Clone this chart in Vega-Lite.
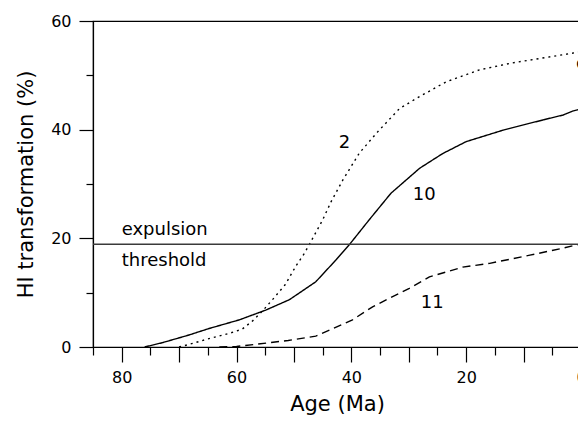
{
  "$schema": "https://vega.github.io/schema/vega-lite/v6.json",
  "width": 488,
  "height": 326,
  "autosize": {"type": "none"},
  "padding": {"left": 93, "top": 21, "right": 0, "bottom": 74},
  "background": "white",
  "config": {
    "view": {"stroke": "black", "strokeWidth": 1.2},
    "font": "DejaVu Sans",
    "axis": {
      "grid": false,
      "domainColor": "black",
      "domainWidth": 1.2,
      "tickColor": "black",
      "tickWidth": 1.2,
      "labelFont": "DejaVu Sans",
      "titleFont": "DejaVu Sans",
      "labelColor": "black",
      "titleColor": "black",
      "titleFontWeight": "normal",
      "labelFontSize": 16,
      "titleFontSize": 21
    }
  },
  "datasets": {
    "curves": [
      {"series": "2", "age": 70, "value": 0},
      {"series": "2", "age": 67.5, "value": 0.7},
      {"series": "2", "age": 65.3, "value": 1.4},
      {"series": "2", "age": 61.3, "value": 2.5},
      {"series": "2", "age": 59, "value": 3.3},
      {"series": "2", "age": 57.2, "value": 4.8},
      {"series": "2", "age": 55.5, "value": 6.6},
      {"series": "2", "age": 53.5, "value": 9},
      {"series": "2", "age": 51.5, "value": 11.5},
      {"series": "2", "age": 49.6, "value": 15},
      {"series": "2", "age": 48.2, "value": 17.2},
      {"series": "2", "age": 47.3, "value": 18.9},
      {"series": "2", "age": 45, "value": 23.4},
      {"series": "2", "age": 43.5, "value": 26.8},
      {"series": "2", "age": 41.5, "value": 30.7},
      {"series": "2", "age": 38.6, "value": 35.7},
      {"series": "2", "age": 35.5, "value": 39.5},
      {"series": "2", "age": 31.6, "value": 43.9},
      {"series": "2", "age": 28.1, "value": 46.1},
      {"series": "2", "age": 23.5, "value": 48.8},
      {"series": "2", "age": 17.7, "value": 51},
      {"series": "2", "age": 11.9, "value": 52.3},
      {"series": "2", "age": 6, "value": 53.3},
      {"series": "2", "age": 0.8, "value": 54.2},
      {"series": "2", "age": 0, "value": 54.3},
      {"series": "10", "age": 76, "value": 0},
      {"series": "10", "age": 72.9, "value": 0.8},
      {"series": "10", "age": 68.3, "value": 2.2},
      {"series": "10", "age": 64.8, "value": 3.4},
      {"series": "10", "age": 59.5, "value": 5.0},
      {"series": "10", "age": 54.9, "value": 6.8},
      {"series": "10", "age": 50.8, "value": 8.7},
      {"series": "10", "age": 46.2, "value": 12.0},
      {"series": "10", "age": 42.7, "value": 16.0},
      {"series": "10", "age": 40.3, "value": 18.9},
      {"series": "10", "age": 36.9, "value": 23.4},
      {"series": "10", "age": 33.1, "value": 28.3},
      {"series": "10", "age": 28.1, "value": 32.9},
      {"series": "10", "age": 24.1, "value": 35.6},
      {"series": "10", "age": 20, "value": 37.8},
      {"series": "10", "age": 13.6, "value": 39.9},
      {"series": "10", "age": 6.6, "value": 41.8},
      {"series": "10", "age": 3.1, "value": 42.7},
      {"series": "10", "age": 1.5, "value": 43.4},
      {"series": "10", "age": 0.8, "value": 43.6},
      {"series": "10", "age": 0, "value": 43.8},
      {"series": "11", "age": 63, "value": 0},
      {"series": "11", "age": 60, "value": 0.1},
      {"series": "11", "age": 56.6, "value": 0.5},
      {"series": "11", "age": 51, "value": 1.2},
      {"series": "11", "age": 46.2, "value": 2.0},
      {"series": "11", "age": 43.8, "value": 3.1},
      {"series": "11", "age": 39.8, "value": 5.0},
      {"series": "11", "age": 36.3, "value": 7.4},
      {"series": "11", "age": 29.9, "value": 10.8},
      {"series": "11", "age": 26.4, "value": 12.9},
      {"series": "11", "age": 20.6, "value": 14.7},
      {"series": "11", "age": 15.9, "value": 15.4},
      {"series": "11", "age": 8.9, "value": 16.9},
      {"series": "11", "age": 3.1, "value": 18.2},
      {"series": "11", "age": 0.8, "value": 18.8},
      {"series": "11", "age": 0, "value": 18.9}
    ],
    "threshold": [{"value": 18.9}],
    "curveLabels": [
      {"label": "2", "age": 41.2, "value": 36.6},
      {"label": "10", "age": 27.3, "value": 27.0},
      {"label": "11", "age": 25.9, "value": 7.2},
      {"label": "c", "age": 0, "value": 51.2}
    ],
    "notes": [
      {"label": "expulsion", "age": 80, "value": 20.7},
      {"label": "threshold", "age": 80, "value": 15.0}
    ]
  },
  "layer": [
    {
      "data": {"name": "curves"},
      "mark": {"type": "line", "color": "black", "strokeWidth": 1.4},
      "encoding": {
        "x": {
          "field": "age", "type": "quantitative",
          "scale": {"domain": [0, 85], "reverse": true, "nice": false, "zero": false},
          "axis": {
            "orient": "bottom",
            "values": [0, 10, 20, 30, 40, 50, 60, 70, 80],
            "tickSize": 15,
            "labelExpr": "datum.value % 20 === 0 ? datum.label : ''",
            "labelPadding": 7,
            "labelFlush": false,
            "labelOverlap": false,
            "title": "Age (Ma)",
            "titlePadding": 8
          }
        },
        "y": {
          "field": "value", "type": "quantitative",
          "scale": {"domain": [0, 60], "nice": false},
          "axis": {
            "orient": "left",
            "values": [0, 20, 40, 60],
            "tickSize": 14,
            "labelPadding": 8,
            "labelFlush": false,
            "labelOverlap": false,
            "title": "HI transformation (%)",
            "titlePadding": 14
          }
        },
        "detail": {"field": "series", "type": "nominal"},
        "strokeDash": {
          "field": "series", "type": "nominal",
          "scale": {"domain": ["2", "10", "11"], "range": [[2, 4], [1, 0], [8, 5]]},
          "legend": null
        }
      }
    },
    {
      "data": {"name": "threshold"},
      "mark": {"type": "rule", "color": "#3a3a3a", "strokeWidth": 1.4},
      "encoding": {
        "y": {
          "field": "value", "type": "quantitative",
          "scale": {"domain": [0, 60], "nice": false},
          "axis": {
            "orient": "left",
            "values": [10, 30, 50],
            "tickSize": 7,
            "labels": false,
            "domain": false,
            "title": null
          }
        }
      }
    },
    {
      "data": {"name": "curveLabels"},
      "mark": {"type": "text", "font": "DejaVu Sans", "fontSize": 18, "align": "center", "baseline": "alphabetic", "color": "black"},
      "encoding": {
        "x": {
          "field": "age", "type": "quantitative",
          "scale": {"domain": [0, 85], "reverse": true, "nice": false, "zero": false},
          "axis": {
            "orient": "bottom",
            "values": [5, 15, 25, 35, 45, 55, 65, 75, 85],
            "tickSize": 8,
            "labels": false,
            "domain": false,
            "title": null
          }
        },
        "y": {
          "field": "value", "type": "quantitative",
          "scale": {"domain": [0, 60], "nice": false},
          "axis": null
        },
        "text": {"field": "label", "type": "nominal"}
      }
    },
    {
      "data": {"name": "notes"},
      "mark": {"type": "text", "font": "DejaVu Sans", "fontSize": 18, "align": "left", "baseline": "alphabetic", "color": "black"},
      "encoding": {
        "x": {
          "field": "age", "type": "quantitative",
          "scale": {"domain": [0, 85], "reverse": true, "nice": false, "zero": false},
          "axis": null
        },
        "y": {
          "field": "value", "type": "quantitative",
          "scale": {"domain": [0, 60], "nice": false},
          "axis": null
        },
        "text": {"field": "label", "type": "nominal"}
      }
    }
  ],
  "resolve": {"axis": {"x": "independent", "y": "independent"}}
}
